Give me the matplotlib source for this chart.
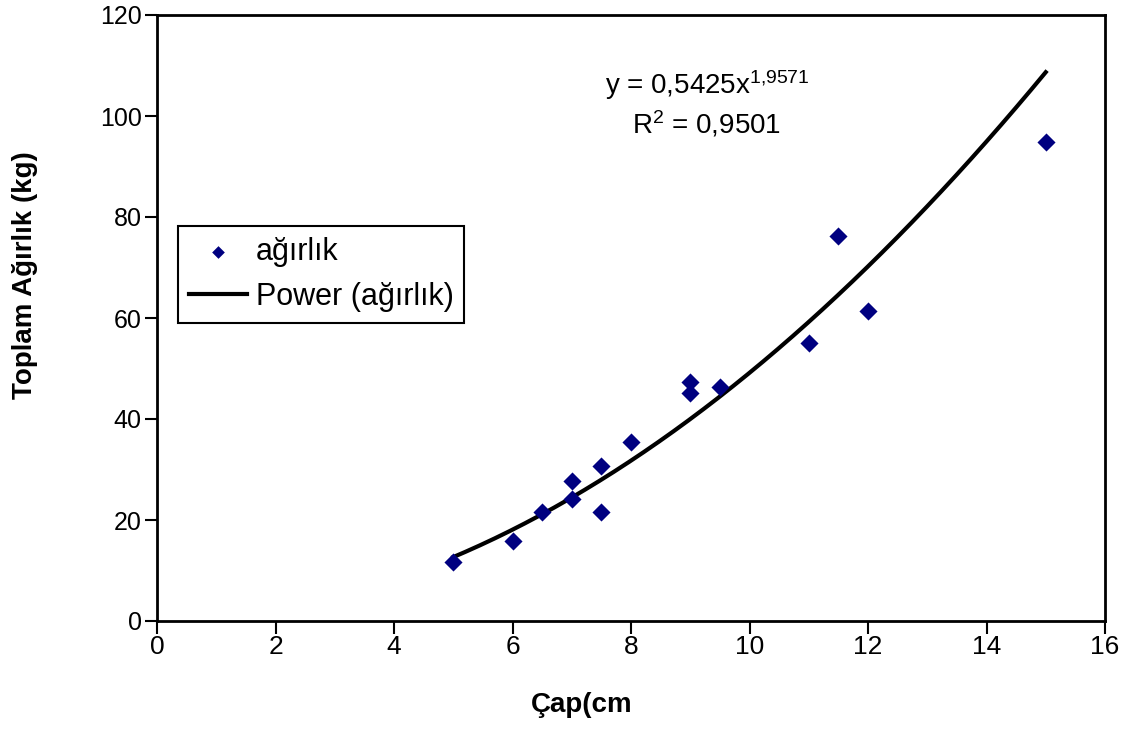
import numpy as np
import matplotlib
matplotlib.use("Agg")
import matplotlib.pyplot as plt

# Data
cap_cm = [5, 6, 6.5, 7, 7, 7.5, 7.5, 8, 9, 9, 9.5, 11, 11.5, 12, 15]
agirlik_kg = [11.6, 15.9, 21.6, 27.8, 24.2, 30.7, 21.6, 35.4, 47.4, 45.2, 46.3, 55.0, 76.2, 61.4, 94.9]
fit_a = 0.5425
fit_b = 1.9571
r2_text = "0,9501"
x_ticks = [0, 2, 4, 6, 8, 10, 12, 14, 16]
y_ticks = [0, 20, 40, 60, 80, 100, 120]

plt.rcParams['font.family'] = ['Liberation Sans', 'DejaVu Sans']
plt.rcParams['mathtext.fontset'] = 'custom'
plt.rcParams['mathtext.rm'] = 'Liberation Sans'
plt.rcParams['mathtext.it'] = 'Liberation Sans'

fig = plt.figure(figsize=(11.32, 7.31), dpi=100)
ax = fig.add_axes([157/1132, 1 - 621/731, (1105-157)/1132, (621-15)/731])

xs = np.linspace(min(cap_cm), max(cap_cm), 200)
ax.scatter(cap_cm, agirlik_kg, marker='D', s=85, color='#000080', zorder=3, label='ağırlık', linewidths=0)
ax.plot(xs, fit_a * xs ** fit_b, color='black', lw=3, zorder=2, label='Power (ağırlık)')

ax.set_xlim(0, 16)
ax.set_ylim(0, 120)
ax.set_xticks(x_ticks)
ax.set_yticks(y_ticks)
ax.tick_params(direction='out', length=9, width=1.5)
ax.tick_params(axis='x', pad=1, labelsize=19)
ax.tick_params(axis='y', pad=2, labelsize=18)
for s in ax.spines.values():
    s.set_linewidth(2)

ax.set_xlabel('Çap(cm', fontsize=20, fontweight='bold')
ax.set_ylabel('Toplam Ağırlık (kg)', fontsize=20, fontweight='bold')
ax.xaxis.set_label_coords((582-157)/948, (621-705)/606)
ax.yaxis.set_label_coords((25-157)/948, (621-275)/606)
ax.xaxis.label.set_va('center')
ax.yaxis.label.set_va('center')

eq = 'y = ' + f'{fit_a}'.replace('.', ',') + 'x$^{' + f'{fit_b}'.replace('.', '{,}') + '}$'
fig.text(707/1132, 1 - 85/731, eq, fontsize=20, ha='center', va='center')
fig.text(707/1132, 1 - 124/731, 'R$^{2}$ = ' + r2_text, fontsize=20, ha='center', va='center')

leg = ax.legend(loc='upper left', bbox_to_anchor=((178-157)/948, (621-226)/606),
                fontsize=22, frameon=True, fancybox=False, edgecolor='black',
                borderpad=0.35, handlelength=1.9, handletextpad=0.3, labelspacing=0.5,
                borderaxespad=0, markerscale=0.7, framealpha=1)
leg.get_frame().set_linewidth(1.5)

fig.savefig('out.png', dpi=100, facecolor='white')
